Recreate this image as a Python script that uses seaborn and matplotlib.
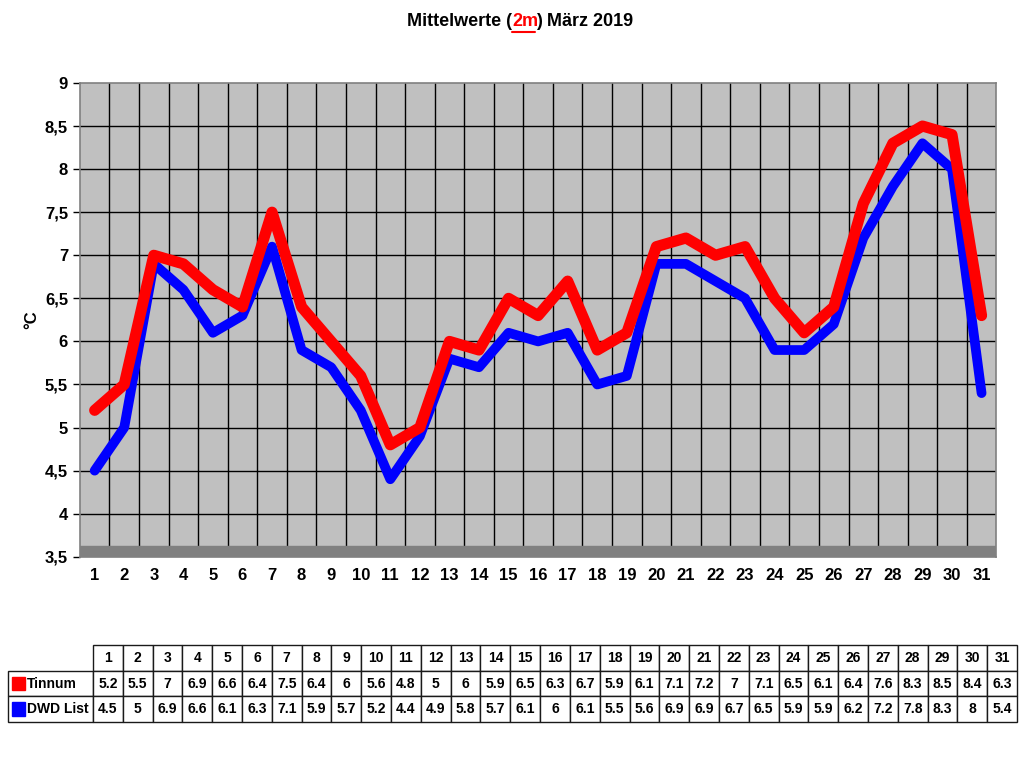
import matplotlib
matplotlib.use("Agg")
import matplotlib.pyplot as plt
import numpy as np
import pandas as pd
import seaborn as sns
from matplotlib.patches import Rectangle

days = list(range(1, 32))
tinnum = [5.2, 5.5, 7, 6.9, 6.6, 6.4, 7.5, 6.4, 6, 5.6, 4.8, 5, 6, 5.9, 6.5, 6.3,
          6.7, 5.9, 6.1, 7.1, 7.2, 7, 7.1, 6.5, 6.1, 6.4, 7.6, 8.3, 8.5, 8.4, 6.3]
dwd_list = [4.5, 5, 6.9, 6.6, 6.1, 6.3, 7.1, 5.9, 5.7, 5.2, 4.4, 4.9, 5.8, 5.7, 6.1, 6,
            6.1, 5.5, 5.6, 6.9, 6.9, 6.7, 6.5, 5.9, 5.9, 6.2, 7.2, 7.8, 8.3, 8, 5.4]
series_names = ["Tinnum", "DWD List"]
series_colors = ["#FF0000", "#0000FF"]
y_ticks = [3.5, 4, 4.5, 5, 5.5, 6, 6.5, 7, 7.5, 8, 8.5, 9]


def main():
    sns.set_theme(style="white")
    plt.rcParams["font.family"] = ["Liberation Sans", "DejaVu Sans"]
    plt.rcParams["font.weight"] = "bold"
    plt.rcParams["text.color"] = "black"

    df = pd.DataFrame({"Tag": days * 2,
                       "Wert": dwd_list + tinnum,
                       "Serie": ["DWD List"] * 31 + ["Tinnum"] * 31})

    fig = plt.figure(figsize=(10.24, 7.68), dpi=100)
    fig.patch.set_facecolor("white")
    ax = fig.add_axes([0.078, 0.275, 0.895, 0.617])
    ax.set_facecolor("#C0C0C0")

    sns.lineplot(data=df[df.Serie == "DWD List"], x="Tag", y="Wert",
                 color=series_colors[1], linewidth=7, ax=ax)
    sns.lineplot(data=df[df.Serie == "Tinnum"], x="Tag", y="Wert",
                 color=series_colors[0], linewidth=8, ax=ax)

    ax.set_xlim(0.5, 31.5)
    ax.set_ylim(3.5, 9)
    ax.set_yticks(y_ticks)
    ax.set_yticklabels([f"{v:g}".replace(".", ",") for v in y_ticks], fontsize=12,
                       color="black")
    ax.set_xticks(days)
    ax.set_xticklabels([str(d) for d in days], fontsize=12, color="black")
    ax.grid(False)
    for x in np.arange(1.5, 31.5, 1):
        ax.axvline(x, color="black", lw=1, zorder=0)
    for y in y_ticks[1:-1]:
        ax.axhline(y, color="black", lw=1, zorder=0)
    ax.axhspan(3.5, 3.62, color="#808080", zorder=0.5)
    ax.tick_params(axis="y", length=5, width=1, color="black", left=True)
    ax.tick_params(axis="x", length=0, pad=8)
    for s in ax.spines.values():
        s.set_color("#808080")
        s.set_linewidth(1.2)
    ax.set_xlabel("")
    ax.set_ylabel("°C", fontsize=12, fontweight="bold", color="black")

    fig.text(0.5, 0.972, "Mittelwerte (", ha="right", va="center", fontsize=13,
             fontweight="bold")
    fig.text(0.5, 0.972, "2m", ha="left", va="center", fontsize=13,
             fontweight="bold", color="red")
    fig.text(0.523, 0.972, ") März 2019", ha="left", va="center", fontsize=13,
             fontweight="bold")
    fig.add_artist(plt.Line2D([0.5, 0.522], [0.958, 0.958], color="red", lw=1.5))

    # data table
    tax = fig.add_axes([8 / 1024, 1 - 722 / 768, 1009 / 1024, 77 / 768])
    tax.axis("off")
    cells = [[""] + [str(d) for d in days],
             [""] + [f"{v:g}" for v in tinnum],
             [""] + [f"{v:g}" for v in dwd_list]]
    first_w = 85 / 1009
    col_w = [first_w] + [(1 - first_w) / 31] * 31
    tbl = tax.table(cellText=cells, colWidths=col_w, bbox=[0, 0, 1, 1],
                    cellLoc="center")
    tbl.auto_set_font_size(False)
    for (r, c), cell in tbl.get_celld().items():
        cell.set_linewidth(1)
        cell.get_text().set_fontsize(10)
        cell.get_text().set_fontweight("bold")
        if r == 0 and c == 0:
            cell.visible_edges = ""
    for i, (name, col) in enumerate(zip(series_names, series_colors)):
        yc = 0.5 - i / 3
        tax.add_patch(Rectangle((0.004, yc - 0.09), 0.013, 0.18,
                                transform=tax.transAxes, color=col, clip_on=False))
        tax.text(0.019, yc, name, transform=tax.transAxes, ha="left", va="center",
                 fontsize=10, fontweight="bold")

    fig.savefig("out.png", dpi=100)


if __name__ == "__main__":
    main()
